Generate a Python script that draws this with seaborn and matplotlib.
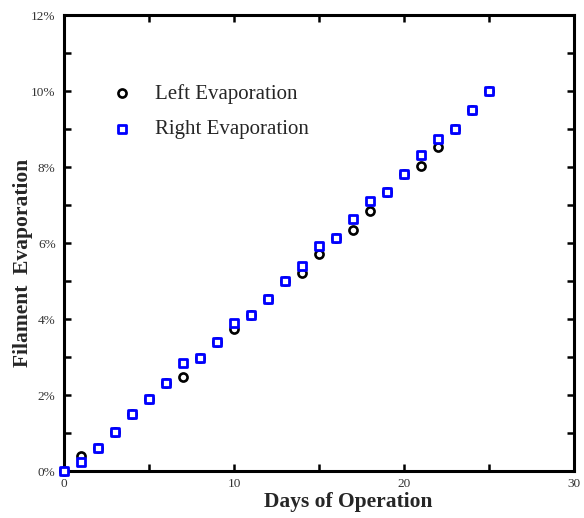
import matplotlib
matplotlib.use("Agg")
import matplotlib.pyplot as plt
import seaborn as sns
import pandas as pd
from matplotlib.ticker import MultipleLocator, FuncFormatter

days = list(range(0, 26))
left_evap = [0.00, 0.39, 0.60, 1.02, 1.51, 1.89, 2.32, 2.48, 2.98, 3.39,
             3.73, 4.10, 4.52, 5.01, 5.22, 5.70, 6.14, 6.34, 6.84, 7.33,
             7.82, 8.03, 8.52, 9.01, 9.50, 10.00]
right_evap = [0.00, 0.23, 0.60, 1.02, 1.51, 1.89, 2.32, 2.83, 2.98, 3.39,
              3.90, 4.10, 4.52, 5.01, 5.39, 5.92, 6.14, 6.63, 7.11, 7.33,
              7.82, 8.31, 8.73, 9.01, 9.50, 10.00]

sns.set_style("ticks")
plt.rcParams['font.family'] = ['Liberation Serif', 'DejaVu Serif']

fig = plt.figure(figsize=(5.84, 5.18), dpi=100)
ax = fig.add_axes([64/584, 1-471/518, 510/584, 456/518])

df_l = pd.DataFrame({"day": days, "val": left_evap})
df_r = pd.DataFrame({"day": days, "val": right_evap})

sns.scatterplot(data=df_l, x="day", y="val", ax=ax, marker="o", s=34,
                facecolor="white", edgecolor="black", linewidth=1.9,
                label="Left Evaporation", zorder=3, clip_on=False)
sns.scatterplot(data=df_r, x="day", y="val", ax=ax, marker="s", s=28,
                facecolor="white", edgecolor="#0000ff", linewidth=2.0,
                label="Right Evaporation", zorder=4, clip_on=False)

ax.set_xlim(0, 30)
ax.set_ylim(0, 12)
ax.xaxis.set_major_locator(MultipleLocator(10))
ax.xaxis.set_minor_locator(MultipleLocator(5))
ax.yaxis.set_major_locator(MultipleLocator(2))
ax.yaxis.set_minor_locator(MultipleLocator(1))
ax.yaxis.set_major_formatter(FuncFormatter(lambda v, p: f"{int(v)}%"))

for sp in ax.spines.values():
    sp.set_visible(True)
    sp.set_linewidth(2.2)
    sp.set_color("black")

ax.tick_params(which="both", direction="in", top=True, right=True,
               length=5, width=1.8, color="black", labelsize=9.5,
               labelcolor="#333333")
ax.tick_params(axis="y", which="major", pad=6)
ax.tick_params(axis="x", which="major", pad=5)

ax.set_xlabel("Days of Operation", fontsize=15.5, fontweight="bold")
ax.set_ylabel("Filament  Evaporation", fontsize=15.5, fontweight="bold")
ax.xaxis.set_label_coords(0.558, -0.046)
ax.yaxis.set_label_coords(-0.061, 0.457)

leg = ax.legend(loc="upper left", bbox_to_anchor=(0.037, 0.89), frameon=False,
                fontsize=15, handletextpad=0.55, labelspacing=0.75,
                markerscale=1.0)

fig.savefig("out.png", dpi=100)
